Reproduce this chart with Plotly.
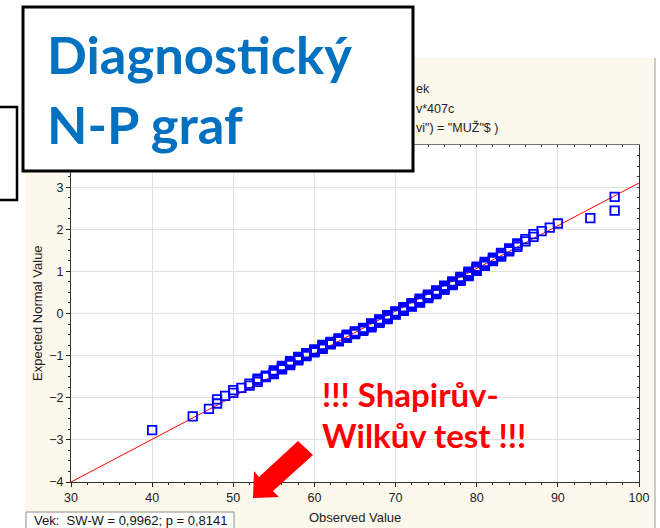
import plotly.graph_objects as go
from statistics import NormalDist

# ---------------- data ----------------
AGES = [40, 45, 47, 48, 49, 50, 51, 52, 53, 54,
        55, 56, 57, 58, 59, 60, 61, 62, 63, 64, 65, 66,
        67, 68, 69, 70, 71, 72, 73, 74, 75, 76, 77, 78,
        79, 80, 81, 82, 83, 84, 85, 86, 87, 88, 89, 90,
        94, 97]
COUNTS = [1, 1, 1, 2, 1, 2, 1, 2, 3, 2,
          4, 4, 5, 5, 5, 5, 7, 5, 6, 7, 6, 7,
          9, 8, 9, 8, 9, 8, 9, 8, 8, 8, 7, 7,
          7, 6, 5, 4, 4, 3, 3, 2, 2, 1, 1, 1,
          1, 2]
LINE_MEAN = 69.45
LINE_SD = 9.86
X_RANGE = [30, 100]
Y_RANGE = [-4, 4]
X_TICKS = [30, 40, 50, 60, 70, 80, 90, 100]
Y_TICKS = [-4, -3, -2, -1, 0, 1, 2, 3]
STAT_TEXT = "Vek:  SW-W = 0,9962; p = 0,8141"
TITLE_FRAGMENTS = ["ek", "v*407c", 'vi") = "MUŽ"$ )']

# observed values sorted, expected normal values from ranks (Blom)
observed = []
for a, c in zip(AGES, COUNTS):
    observed += [a] * c
n = len(observed)
nd = NormalDist()
expected = [nd.inv_cdf((i - 0.375) / (n + 0.25)) for i in range(1, n + 1)]
line_y = [(x - LINE_MEAN) / LINE_SD for x in X_RANGE]

# ---------------- layout geometry ----------------
W, H = 660, 528
ML, MR, MT, MB = 71, 21, 145, 46
PW, PH = W - ML - MR, H - MT - MB


def px(x):
    return (x - ML) / PW


def py(y):
    return (H - MB - y) / PH


fig = go.Figure()
fig.add_trace(go.Scatter(x=X_RANGE, y=line_y, mode="lines",
                         line=dict(color="#ff0000", width=1),
                         hoverinfo="skip", showlegend=False))
fig.add_trace(go.Scatter(x=observed, y=expected, mode="markers",
                         marker=dict(symbol="square-open", size=8.5,
                                     color="#0000ff",
                                     line=dict(color="#0000ff", width=1.8)),
                         showlegend=False))
# dummy trace for the mirrored (top/right) axes
fig.add_trace(go.Scatter(x=[None], y=[None], xaxis="x2", yaxis="y2",
                         showlegend=False, hoverinfo="skip"))

tickfont = dict(family="Liberation Sans, Arial", size=12.5, color="#222")
fig.update_layout(
    width=W, height=H,
    margin=dict(l=ML, r=MR, t=MT, b=MB, pad=0),
    paper_bgcolor="#fcf8ec",
    plot_bgcolor="#ffffff",
    xaxis=dict(range=X_RANGE, tickvals=X_TICKS, ticks="outside", ticklen=4,
               tickcolor="#222", showline=True, linecolor="#333", linewidth=1,
               showgrid=True, gridcolor="#e1e1e1", gridwidth=1, zeroline=False,
               tickfont=tickfont,
               minor=dict(dtick=2, tick0=30, ticks="outside", ticklen=2,
                          tickcolor="#222", showgrid=False)),
    yaxis=dict(range=Y_RANGE, tickvals=Y_TICKS, ticks="outside", ticklen=4,
               tickcolor="#222", showline=True, linecolor="#333", linewidth=1,
               showgrid=True, gridcolor="#e1e1e1", gridwidth=1, zeroline=False,
               tickfont=tickfont,
               minor=dict(dtick=0.25, tick0=0, ticks="outside", ticklen=2,
                          tickcolor="#222", showgrid=False)),
    xaxis2=dict(range=X_RANGE, overlaying="x", side="top", anchor="y2",
                showticklabels=False, ticks="inside", ticklen=2, tickvals=X_TICKS,
                tickcolor="#333", showline=True, linecolor="#777", linewidth=1,
                showgrid=False, zeroline=False,
                minor=dict(dtick=2, tick0=30, ticks="inside", ticklen=1.5,
                           tickcolor="#333")),
    yaxis2=dict(range=Y_RANGE, overlaying="y", side="right", anchor="x2",
                showticklabels=False, ticks="inside", ticklen=2, tickvals=Y_TICKS,
                tickcolor="#333", showline=True, linecolor="#333", linewidth=1,
                showgrid=False, zeroline=False,
                minor=dict(dtick=0.25, tick0=0, ticks="inside", ticklen=2,
                           tickcolor="#333")),
)

shapes = []


def rect(x0, y0, x1, y1, fill, line_color=None, lw=0):
    shapes.append(dict(type="rect", xref="paper", yref="paper",
                       x0=px(x0), x1=px(x1), y0=py(y1), y1=py(y0),
                       fillcolor=fill, layer="above",
                       line=dict(color=line_color or fill, width=lw)))


# white page around the Statistica window
rect(-2, -2, W + 2, 58, "#ffffff")
rect(-2, -2, 25, H + 2, "#ffffff")
rect(655, -2, W + 2, H + 2, "#ffffff")
shapes.append(dict(type="line", xref="paper", yref="paper",
                   x0=px(655), x1=px(655), y0=py(58), y1=py(H + 2),
                   line=dict(color="#9a9a9a", width=1), layer="above"))
# boxes
rect(-6, 107, 17, 200, "#ffffff", "#000000", 2.5)
rect(23, 7, 413, 171, "#ffffff", "#000000", 3)
rect(26, 512, 234, 535, "#ffffff", "#8c8c8c", 1)
# red block arrow
arrow_pts = [(253, 498), (279, 497), (273, 491), (313, 455),
             (298, 441), (259, 477), (254, 471)]
path = "M " + " L ".join(f"{px(a):.5f},{py(b):.5f}" for a, b in arrow_pts) + " Z"
shapes.append(dict(type="path", xref="paper", yref="paper", path=path,
                   fillcolor="#ff0000", line=dict(width=0), layer="above"))
fig.update_layout(shapes=shapes)

ann = []


def text(t, x, y, size, color, family="Liberation Sans, Arial", weight="normal",
         xanchor="left", angle=0):
    ann.append(dict(text=t, x=px(x), y=py(y), xref="paper", yref="paper",
                    xanchor=xanchor, yanchor="middle", showarrow=False,
                    textangle=angle,
                    font=dict(family=family, size=size, color=color, weight=weight)))


text("Expected Normal Value", 37, 313, 13, "#222", xanchor="center", angle=-90)
text("Observed Value", 355, 517, 13, "#222", xanchor="center")
for i, frag in enumerate(TITLE_FRAGMENTS):
    text(frag, 414, 89 + i * 19.5, 12.5, "#222")
text(STAT_TEXT, 32, 520, 13, "#111")
# zero-width non-joiner keeps Lato from drawing a "ti" ligature
text("Diagnos\u200ctický", 45, 54, 52.5, "#0070c0", family="Lato", weight="bold")
text("N-P graf", 45, 124, 52.5, "#0070c0", family="Lato", weight="bold")
text("!!! Shapirův-", 320, 394, 33, "#ff0000", family="Lato", weight="bold")
text("Wilkův test !!!", 320, 435, 33, "#ff0000", family="Lato", weight="bold")
fig.update_layout(annotations=ann)

fig.write_html("out.html",
               config={"displayModeBar": False},
               post_script="document.body.style.margin='0';"
                           "document.body.style.overflow='hidden';")
